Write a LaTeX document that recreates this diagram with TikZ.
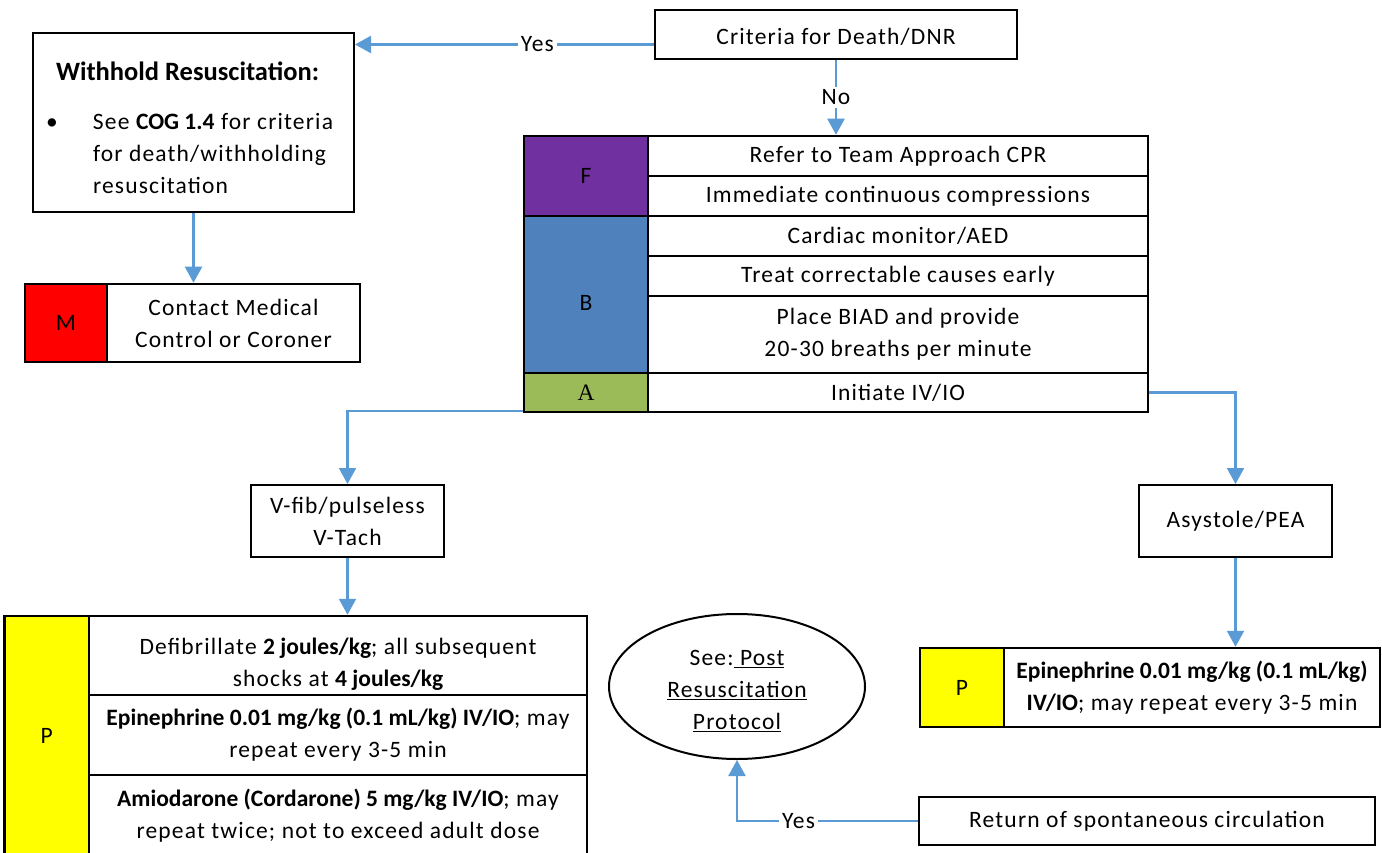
\documentclass[tikz,border=0pt]{standalone}
\usepackage{fontspec}
\setmainfont{Carlito}[LetterSpace=5]
\newfontfamily\plainfont{Carlito}
\newfontfamily\seriffont{Liberation Serif}
\usetikzlibrary{arrows.meta,shapes.geometric,calc}
\definecolor{arrowblue}{HTML}{5B9BD5}
\definecolor{fpurple}{HTML}{7030A0}
\definecolor{bblue}{HTML}{4F81BD}
\definecolor{agreen}{HTML}{9BBB59}
\definecolor{mred}{HTML}{FF0000}
\definecolor{pyellow}{HTML}{FFFF00}
\newcommand\bb[1]{{\plainfont\bfseries #1}}
\begin{document}
\begin{tikzpicture}[x=1pt,y=-1pt,
  every node/.style={font=\fontsize{23.5}{32}\selectfont, inner sep=0pt, align=center},
  box/.style={draw, line width=2pt, fill=white, rectangle},
  cell/.style={draw, line width=2.5pt, rectangle},
  arr/.style={draw=arrowblue, line width=2.2pt, -{Triangle[width=17pt,length=16pt]}},
  lbl/.style={fill=white, inner sep=3pt}
]
\useasboundingbox (0,0) rectangle (1382,853);

% top decision
\node[box, minimum width=362, minimum height=49] (crit) at (836,34.5) {\rule{0pt}{22pt}Criteria for Death/DNR};

% withhold box
\node[box, minimum width=321, minimum height=179] (wh) at (193.5,122.5)
  {\parbox[c][179pt][t]{300pt}{\vspace*{29pt}\hspace*{12.5pt}{\fontsize{26.5}{32}\selectfont\bb{Withhold Resuscitation:}}\par\vspace{17pt}%
   \hspace*{2.5pt}\makebox[47pt][l]{\textbullet}\parbox[t]{250pt}{See \bb{COG 1.4} for criteria\\for death/withholding\\resuscitation}}};

% M box
\node[cell, fill=mred, minimum width=82, minimum height=78] (mc) at (66,323) {M};
\node[cell, fill=white, minimum width=253, minimum height=78] (mt) at (233.5,323) {Contact Medical\\Control or Coroner};

% FBA table
\node[cell, fill=fpurple, minimum width=124, minimum height=80] (F) at (586,176) {F};
\node[cell, fill=bblue, minimum width=124, minimum height=157] (B) at (586,294.5) {\rule{0pt}{32pt}B};
\node[cell, fill=agreen, minimum width=124, minimum height=39] (A) at (586,392.5) {\seriffont A};
\node[cell, fill=white, minimum width=500, minimum height=40] (r1) at (898,156) {Refer to Team Approach CPR};
\node[cell, fill=white, minimum width=500, minimum height=40] (r2) at (898,196) {Immediate continuous compressions};
\node[cell, fill=white, minimum width=500, minimum height=40] (r3) at (898,236) {Cardiac monitor/AED};
\node[cell, fill=white, minimum width=500, minimum height=40] (r4) at (898,276) {Treat correctable causes early};
\node[cell, fill=white, minimum width=500, minimum height=77] (r5) at (898,334.5) {Place BIAD and provide\\20-30 breaths per minute};
\node[cell, fill=white, minimum width=500, minimum height=39] (r6) at (898,392.5) {Initiate IV/IO};

% rhythm boxes
\node[box, minimum width=193, minimum height=72] (vf) at (347.5,521) {V-fib/pulseless\\V-Tach};
\node[box, minimum width=193, minimum height=72] (as) at (1235.5,521) {Asystole/PEA};

% left P table
\node[cell, fill=pyellow, minimum width=84.5, minimum height=240] (pl) at (46.75,736) {P};
\node[cell, fill=white, minimum width=498, minimum height=79] (p1) at (338,655.5) {\rule{0pt}{34pt}Defibrillate \bb{2 joules/kg}; all subsequent\\shocks at \bb{4 joules/kg}};
\node[cell, fill=white, minimum width=498, minimum height=80] (p2) at (338,735) {\bb{Epinephrine 0.01 mg/kg (0.1 mL/kg) IV/IO}; may\\repeat every 3-5 min};
\node[cell, fill=white, minimum width=498, minimum height=81] (p3) at (338,815.5) {\bb{Amiodarone (Cordarone) 5 mg/kg IV/IO}; may\\repeat twice; not to exceed adult dose};

% right P table
\node[cell, fill=pyellow, minimum width=84, minimum height=79] (pr0) at (962,687.5) {P};
\node[cell, fill=white, minimum width=376, minimum height=79] (pr) at (1192,687.5) {\bb{Epinephrine 0.01 mg/kg (0.1 mL/kg)}\\\bb{IV/IO}; may repeat every 3-5 min};

% ellipse and return
\node[draw, ellipse, line width=2pt, fill=white, minimum width=256, minimum height=145] (ell) at (737,686.5)
  {\rule{0pt}{24pt}See:\underline{\ Post}\\\underline{Resuscitation}\\\underline{Protocol}};
\node[box, minimum width=456, minimum height=48] (ret) at (1147,821) {Return of spontaneous circulation};

% connectors
\coordinate (ya) at ([yshift=-10pt]crit.west);
\draw[arr] (ya) -- node[lbl, pos=0.39] {Yes} (ya -| wh.east);
\draw[arr] (crit.south) -- node[lbl] {No} (crit.south |- r1.north);
\draw[arr] (wh.south) -- (wh.south |- mt.north);
\draw[arr] ([yshift=2pt]A.south west) -| (vf.north);
\draw[arr] (r6.east) -| (as.north);
\draw[arr] (vf.south) -- (vf.south |- p1.north);
\draw[arr] (as.south) -- (as.south |- pr.north);
\draw[arr] (ret.west) -| node[lbl, pos=0.33] {Yes} (ell.south);
\end{tikzpicture}
\end{document}
